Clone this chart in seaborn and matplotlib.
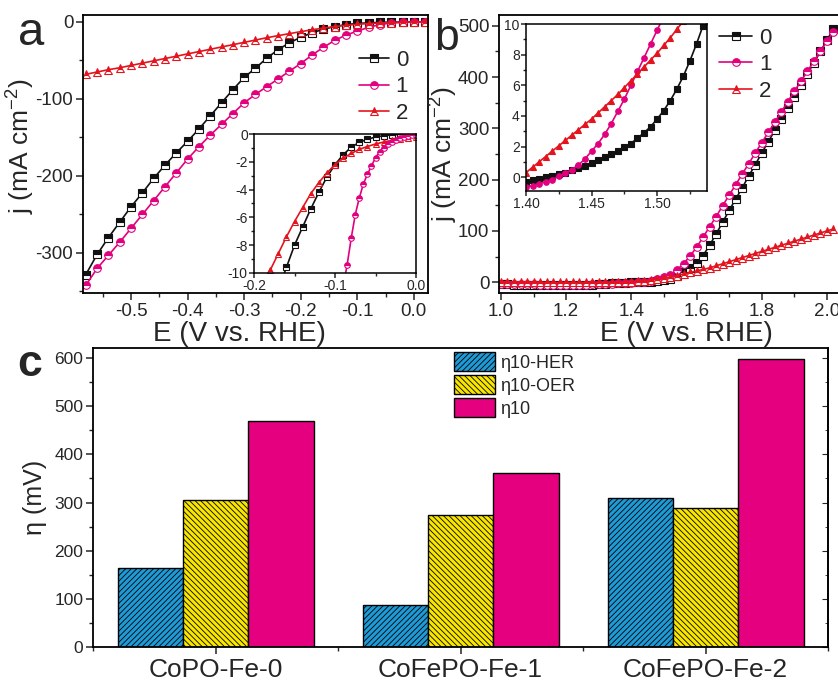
import numpy as np
import pandas as pd
import matplotlib
matplotlib.use('Agg')
import matplotlib.pyplot as plt
from matplotlib.ticker import MultipleLocator, FormatStrFormatter, FixedLocator
import seaborn as sns

# ---------------- data ----------------
# panel a: HER polarisation curves
her_E = [-0.58, -0.56, -0.54, -0.52, -0.50, -0.48, -0.46, -0.44, -0.42, -0.40, -0.38,
         -0.36, -0.34, -0.32, -0.30, -0.28, -0.26, -0.24, -0.22, -0.20, -0.18, -0.16,
         -0.14, -0.12, -0.10, -0.08, -0.06, -0.04, -0.02, 0.00, 0.02]
her_j0 = [-328, -302, -280, -260, -240, -222, -203, -186, -170, -155, -139, -122, -105,
          -88, -72, -60, -47, -36, -27, -20, -14, -9.5, -6, -3.5, -2, -1.2, -0.6, -0.3,
          -0.1, 0, 0.2]
her_j1 = [-342, -320, -303, -286, -268, -250, -232, -214, -196, -178, -162, -147, -133,
          -119, -105, -94, -84, -74, -64, -54, -43, -33, -24, -17, -12, -7, -3.5, -1.3,
          -0.5, 0, 0.3]
her_j2 = [-68, -65, -62, -59.5, -56.5, -53.5, -50.5, -47.5, -44.5, -41.5, -38.5, -35.5,
          -32.5, -29.5, -26.5, -23.5, -20.5, -17.8, -15.2, -12.6, -10.2, -8.0, -6.0, -4.4,
          -3.1, -2.1, -1.4, -0.9, -0.5, -0.2, 0]

# inset of panel a
insA_E0 = [-0.17, -0.16, -0.15, -0.14, -0.13, -0.12, -0.11, -0.10, -0.09, -0.08, -0.07,
           -0.06, -0.05, -0.04, -0.03, -0.02, -0.01, 0.00]
insA_j0 = [-11.2, -9.6, -8.0, -6.7, -5.4, -4.2, -3.1, -2.2, -1.5, -0.95, -0.6, -0.38,
           -0.22, -0.12, -0.06, -0.03, -0.01, 0.0]
insA_E1 = [-0.09, -0.085, -0.08, -0.075, -0.07, -0.065, -0.06, -0.055, -0.05, -0.045,
           -0.04, -0.035, -0.03, -0.025, -0.02, -0.015, -0.01, -0.005, 0.0]
insA_j1 = [-11.0, -9.4, -7.5, -5.8, -4.6, -3.6, -2.9, -2.3, -1.7, -1.3, -1.0, -0.75,
           -0.55, -0.42, -0.3, -0.22, -0.15, -0.1, -0.05]
insA_E2 = [-0.19, -0.18, -0.17, -0.16, -0.15, -0.14, -0.13, -0.12, -0.11, -0.10, -0.09,
           -0.08, -0.07, -0.06, -0.05, -0.04, -0.03, -0.02, -0.01, 0.00]
insA_j2 = [-11.0, -9.8, -8.6, -7.4, -6.3, -5.3, -4.3, -3.5, -2.8, -2.2, -1.75, -1.4,
           -1.1, -0.9, -0.72, -0.58, -0.46, -0.36, -0.27, -0.2]

# panel b: OER polarisation curves
oer_E = [1.00, 1.02, 1.04, 1.06, 1.08, 1.10, 1.12, 1.14, 1.16, 1.18, 1.20, 1.22, 1.24,
         1.26, 1.28, 1.30, 1.32, 1.34, 1.36, 1.38, 1.40, 1.42, 1.44, 1.46, 1.48, 1.50,
         1.52, 1.54, 1.56, 1.58, 1.60, 1.62, 1.64, 1.66, 1.68, 1.70, 1.72, 1.74, 1.76,
         1.78, 1.80, 1.82, 1.84, 1.86, 1.88, 1.90, 1.92, 1.94, 1.96, 1.98, 2.00, 2.02]
oer_j0 = [-4, -4, -4.5, -4.5, -5, -5, -5.5, -5.5, -6, -6, -6, -6, -5.5, -5, -4.5, -4, -3,
          -2, -1.3, -0.7, -0.3, 0.1, 0.6, 1.3, 2.2, 3.8, 6.6, 12, 19, 27, 37, 52, 72, 94,
          117, 140, 162, 184, 207, 229, 252, 274, 296, 318, 340, 362, 384, 406, 428, 450,
          472, 494]
oer_j1 = [-3, -3, -3.5, -3.5, -4, -4, -4.5, -4.5, -5, -5, -5, -5, -4.5, -4.5, -4, -3.5,
          -3, -2.5, -1.8, -1.2, -0.6, -0.1, 0.8, 2.8, 6, 9.6, 15, 24, 36, 51, 68, 88, 108,
          128, 149, 170, 190, 211, 231, 252, 272, 292, 312, 332, 352, 372, 392, 411, 431,
          450, 470, 488]
oer_j2 = [1, 1, 0.5, 0.5, 0, 0, 0, -0.5, -0.5, -0.5, -0.5, -0.5, -0.5, -0.5, -0.5, -0.5,
          -0.5, -0.3, 0, 0.1, 0.3, 1.7, 3.1, 4.6, 6.3, 8.1, 10.2, 13, 16, 19, 22, 25, 28,
          32, 36, 40, 44, 48, 52, 56, 60, 64, 68, 72, 76, 80, 84, 88, 92, 96, 100, 104]

# inset of panel b
insB_E = [1.400, 1.405, 1.410, 1.415, 1.420, 1.425, 1.430, 1.435, 1.440, 1.445, 1.450,
          1.455, 1.460, 1.465, 1.470, 1.475, 1.480, 1.485, 1.490, 1.495, 1.500, 1.505,
          1.510, 1.515, 1.520, 1.525, 1.530, 1.535]
insB_j0 = [-0.3, -0.2, -0.1, 0.0, 0.1, 0.2, 0.3, 0.45, 0.6, 0.75, 0.9, 1.1, 1.3, 1.5, 1.7,
           1.95, 2.2, 2.55, 2.9, 3.3, 3.8, 4.35, 5.0, 5.75, 6.6, 7.6, 8.7, 9.9]
insB_j1 = [-0.65, -0.55, -0.42, -0.3, -0.15, 0.05, 0.25, 0.5, 0.8, 1.2, 1.7, 2.2, 2.8,
           3.5, 4.3, 5.1, 6.0, 6.9, 7.8, 8.7, 9.6, 10.5]
insB_j2 = [0.3, 0.65, 1.0, 1.35, 1.7, 2.05, 2.4, 2.75, 3.1, 3.45, 3.8, 4.2, 4.6, 5.0, 5.4,
           5.85, 6.3, 6.75, 7.2, 7.65, 8.1, 8.6, 9.1, 9.65, 10.2]

curve_labels = ['0', '1', '2']

# panel c: overpotentials
samples = ['CoPO-Fe-0', 'CoFePO-Fe-1', 'CoFePO-Fe-2']
eta_her = [165, 87, 310]
eta_oer = [305, 275, 288]
eta_total = [470, 362, 598]
bar_labels = ['\u03b710-HER', '\u03b710-OER', '\u03b710']

# ---------------- style ----------------
sns.set_style('ticks')
plt.rcParams['font.family'] = ['Liberation Sans', 'DejaVu Sans']
plt.rcParams['axes.unicode_minus'] = False
plt.rcParams['axes.linewidth'] = 1.3
plt.rcParams['hatch.linewidth'] = 0.6
plt.rcParams['mathtext.fontset'] = 'custom'
plt.rcParams['mathtext.rm'] = 'Liberation Sans'

C_BLACK = '#111111'
C_MAG = '#E2007E'
C_RED = '#E4141E'
curve_colors = [C_BLACK, C_MAG, C_RED]
curve_markers = ['s', 'o', '^']
bar_colors = ['#1E9BD7', '#F8E600', '#E4007F']
hatch_colors = ['#0B4F80', '#6E6400', None]

W, H = 838, 690
fig = plt.figure(figsize=(W / 100, H / 100), dpi=100)


def px_axes(l, t, r, b):
    return fig.add_axes([l / W, 1 - b / H, (r - l) / W, (b - t) / H])


def curve(ax, x, y, color, marker, ms, label=None, half=True):
    kw = dict(x=x, y=y, ax=ax, color=color, marker=marker, markersize=ms,
              linewidth=1.2, markeredgecolor=color, markeredgewidth=0.8,
              estimator=None, sort=False)
    if half:
        kw.update(fillstyle='top', markerfacecoloralt='white')
    if label is not None:
        kw['label'] = label
    sns.lineplot(**kw)


def style_ticks(ax, size, major=5, minor=3):
    ax.tick_params(which='major', direction='out', length=major, width=1.1,
                   labelsize=size, top=False, right=False, pad=2)
    ax.tick_params(which='minor', direction='out', length=minor, width=1.0,
                   top=False, right=False)
    for s in ax.spines.values():
        s.set_visible(True)
        s.set_linewidth(1.3)
        s.set_color('black')


YLAB = 'j (mA cm$^{\\mathregular{-2}}$)'

# ---------------- panel a ----------------
axa = px_axes(83, 15, 428, 293)
for yv, c, m, lab in zip([her_j0, her_j1, her_j2], curve_colors, curve_markers, curve_labels):
    curve(axa, her_E, yv, c, m, 5.5, label=lab)
axa.set_xlim(-0.585, 0.025)
axa.set_ylim(-352, 9)
axa.xaxis.set_major_locator(MultipleLocator(0.1))
axa.xaxis.set_minor_locator(MultipleLocator(0.05))
axa.yaxis.set_major_locator(MultipleLocator(100))
axa.yaxis.set_minor_locator(MultipleLocator(50))
axa.xaxis.set_major_formatter(FormatStrFormatter('%.1f'))
style_ticks(axa, 13.5)
axa.set_xlabel('E (V vs. RHE)', fontsize=20)
axa.set_ylabel(YLAB, fontsize=19)
axa.xaxis.set_label_coords(0.452, -0.1)
axa.yaxis.set_label_coords(-0.135, 0.53)
axa.legend(loc='upper left', bbox_to_anchor=(0.80, 0.875), frameon=False, fontsize=16,
           handlelength=1.35, handletextpad=0.3, labelspacing=0.25, borderpad=0,
           borderaxespad=0)

# inset a
ia = px_axes(254, 134, 416, 273)
curve(ia, insA_E0, insA_j0, C_BLACK, 's', 4)
curve(ia, insA_E2, insA_j2, C_RED, '^', 4)
curve(ia, insA_E1, insA_j1, C_MAG, 'o', 4)
ia.set_xlim(-0.2, 0.0)
ia.set_ylim(-10, 0)
ia.xaxis.set_major_locator(FixedLocator([-0.2, -0.1, 0.0]))
ia.xaxis.set_minor_locator(MultipleLocator(0.05))
ia.yaxis.set_major_locator(MultipleLocator(2))
ia.yaxis.set_minor_locator(MultipleLocator(1))
ia.xaxis.set_major_formatter(FormatStrFormatter('%.1f'))
style_ticks(ia, 10, major=3.5, minor=2)
ia.tick_params(pad=1)
for s in ia.spines.values():
    s.set_linewidth(1.1)
ia.set_xlabel('')
ia.set_ylabel('')

# ---------------- panel b ----------------
axb = px_axes(499, 15, 840, 293)
for yv, c, m, lab in zip([oer_j0, oer_j1, oer_j2], curve_colors, curve_markers, curve_labels):
    curve(axb, oer_E, yv, c, m, 5.5, label=lab)
axb.set_xlim(0.994, 2.04)
axb.set_ylim(-21, 521)
axb.xaxis.set_major_locator(MultipleLocator(0.2))
axb.xaxis.set_minor_locator(MultipleLocator(0.1))
axb.yaxis.set_major_locator(MultipleLocator(100))
axb.yaxis.set_minor_locator(MultipleLocator(50))
axb.xaxis.set_major_formatter(FormatStrFormatter('%.1f'))
style_ticks(axb, 13.5)
axb.set_xlabel('E (V vs. RHE)', fontsize=20)
axb.set_ylabel(YLAB, fontsize=19)
axb.xaxis.set_label_coords(0.55, -0.1)
axb.yaxis.set_label_coords(-0.117, 0.5)
axb.legend(loc='upper left', bbox_to_anchor=(0.645, 0.955), frameon=False, fontsize=16,
           handlelength=1.5, handletextpad=0.3, labelspacing=0.25, borderpad=0,
           borderaxespad=0)

# inset b
ib = px_axes(526, 24, 707, 191)
curve(ib, insB_E[:len(insB_j0)], insB_j0, C_BLACK, 's', 4, half=False)
curve(ib, insB_E[:len(insB_j1)], insB_j1, C_MAG, 'o', 4, half=False)
curve(ib, insB_E[:len(insB_j2)], insB_j2, C_RED, '^', 4, half=False)
ib.set_xlim(1.40, 1.538)
ib.set_ylim(-0.9, 10)
ib.xaxis.set_major_locator(FixedLocator([1.40, 1.45, 1.50]))
ib.xaxis.set_minor_locator(MultipleLocator(0.025))
ib.yaxis.set_major_locator(MultipleLocator(2))
ib.yaxis.set_minor_locator(MultipleLocator(1))
ib.xaxis.set_major_formatter(FormatStrFormatter('%.2f'))
style_ticks(ib, 10, major=3.5, minor=2)
ib.tick_params(pad=1)
for s in ib.spines.values():
    s.set_linewidth(1.1)
ib.set_xlabel('')
ib.set_ylabel('')

# ---------------- panel c ----------------
axc = px_axes(93, 348, 828, 647)
df = pd.DataFrame({
    'sample': samples * 3,
    'eta': eta_her + eta_oer + eta_total,
    'series': [lab for lab in bar_labels for _ in samples],
})
sns.barplot(data=df, x='sample', y='eta', hue='series', palette=bar_colors,
            saturation=1, edgecolor='black', linewidth=1.0, width=0.8, ax=axc,
            legend=False)
hatches = ['//////', '\\\\\\\\\\\\', '']
for cont, hatch, hc in zip(axc.containers, hatches, hatch_colors):
    for bar in cont:
        if hatch:
            bar.set_hatch(hatch)
            if hasattr(bar, 'set_hatchcolor'):
                bar.set_hatchcolor(hc)
axc.set_xlim(-0.5, 2.5)
axc.set_ylim(0, 621)
axc.yaxis.set_major_locator(MultipleLocator(100))
axc.yaxis.set_minor_locator(MultipleLocator(50))
axc.xaxis.set_minor_locator(FixedLocator([-0.5, 0.5, 1.5, 2.5]))
style_ticks(axc, 12.5)
axc.tick_params(axis='x', which='major', labelsize=19, pad=3)
axc.set_xlabel('')
axc.set_ylabel('\u03b7 (mV)', fontsize=18)
axc.yaxis.set_label_coords(-0.063, 0.5)
sec = axc.secondary_yaxis('right')
sec.yaxis.set_major_locator(MultipleLocator(100))
sec.yaxis.set_minor_locator(MultipleLocator(50))
sec.tick_params(which='major', direction='in', length=4, labelright=False)
sec.tick_params(which='minor', direction='in', length=2.5)
sec.spines['right'].set_linewidth(1.3)
leg = axc.legend(handles=list(axc.containers), labels=bar_labels, loc='upper left',
                 bbox_to_anchor=(0.491, 0.985), frameon=False,
                 prop={'size': 13}, handlelength=2.27,
                 handleheight=1.2, handletextpad=0.3, labelspacing=0.2,
                 borderpad=0, borderaxespad=0)

# panel letters
fig.text(18 / W, 1 - 45 / H, 'a', fontsize=34, va='baseline', ha='left')
fig.text(434 / W, 1 - 50 / H, 'b', fontsize=32, va='baseline', ha='left')
fig.text(17 / W, 1 - 376 / H, 'c', fontsize=32, fontweight='bold', va='baseline',
         ha='left')

fig.savefig('out.png', dpi=100)
